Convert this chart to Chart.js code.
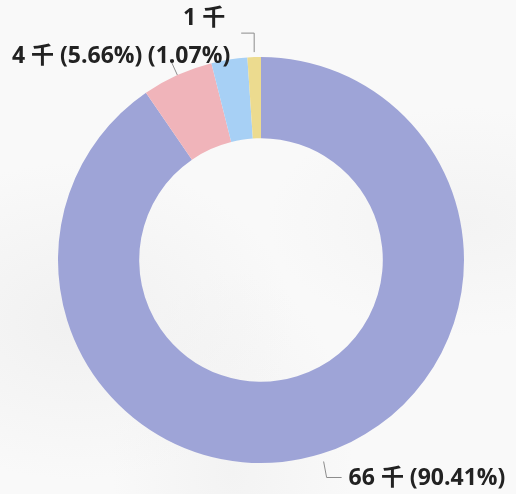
<!DOCTYPE html>
<html>
<head>
<meta charset="utf-8">
<script src="https://cdn.jsdelivr.net/npm/chart.js@4.4.1/dist/chart.umd.min.js"></script>
<style>
  html, body { margin: 0; padding: 0; }
  body {
    width: 516px; height: 494px; overflow: hidden;
    background:
      radial-gradient(ellipse at 15% 65%, rgba(232,232,232,0.5), rgba(255,255,255,0) 35%),
      radial-gradient(ellipse at 90% 45%, rgba(236,236,236,0.45), rgba(255,255,255,0) 30%),
      radial-gradient(ellipse at 45% 95%, rgba(234,234,234,0.4), rgba(255,255,255,0) 30%),
      #f9f9f9;
  }
  #wrap { position: relative; width: 516px; height: 494px; }
</style>
</head>
<body>
<div id="wrap"><canvas id="donut" width="516" height="494"></canvas></div>
<script>
// data
const categories = ["A", "B", "C", "D"];
const values = [66000, 4132, 2088, 781];
const colors = ["#9ea4d7", "#f0b4ba", "#a7d0f5", "#ecdb8f"];
const showLabel = [true, true, false, true];

const total = values.reduce((a, b) => a + b, 0);
const labelFont = "bold 23px 'Open Sans', 'Noto Sans CJK SC', sans-serif";

function valueText(v) {
  return Math.max(1, Math.round(v / 1000)) + " 千";
}
function pctText(v) {
  return "(" + (v / total * 100).toFixed(2) + "%)";
}

// draws the outside labels with leader lines
const outsideLabels = {
  id: "outsideLabels",
  afterDatasetsDraw(chart) {
    const ctx = chart.ctx;
    const arcs = chart.getDatasetMeta(0).data;
    ctx.save();
    ctx.font = labelFont;
    ctx.fillStyle = "#222";
    ctx.strokeStyle = "#8c8c8c";
    ctx.lineWidth = 1;
    ctx.textBaseline = "middle";
    arcs.forEach((arc, i) => {
      if (!showLabel[i]) return;
      const p = arc.getProps(["x", "y", "startAngle", "endAngle", "outerRadius"], true);
      const a = (p.startAngle + p.endAngle) / 2;
      const cx = p.x + Math.cos(a) * p.outerRadius;
      const cy = p.y + Math.sin(a) * p.outerRadius;
      const v = values[i];
      ctx.beginPath();
      if (i === 0) {
        const sx = cx + Math.cos(a) * 8, sy = cy + Math.sin(a) * 8;
        ctx.moveTo(sx, sy);
        ctx.lineTo(sx + 3, sy + 16);
        ctx.lineTo(sx + 18, sy + 16);
        ctx.stroke();
        ctx.textAlign = "left";
        ctx.fillText(valueText(v) + " " + pctText(v), sx + 25, sy + 17);
      } else if (i === 1) {
        const ex = cx + Math.cos(a) * 17, ey = cy + Math.sin(a) * 17;
        ctx.moveTo(cx, cy);
        ctx.lineTo(ex, ey);
        ctx.stroke();
        ctx.textAlign = "right";
        ctx.fillText(valueText(v) + " " + pctText(v), ex - 28, ey - 3);
      } else {
        const sx = cx, sy = cy - 5;
        ctx.moveTo(sx, sy);
        ctx.lineTo(sx, sy - 19);
        ctx.lineTo(sx - 13, sy - 19);
        ctx.stroke();
        ctx.textAlign = "right";
        ctx.fillText(valueText(v), sx - 29, sy - 34);
        ctx.fillText(pctText(v), sx - 24, sy + 4);
      }
    });
    ctx.restore();
  }
};

new Chart(document.getElementById("donut"), {
  type: "doughnut",
  data: {
    labels: categories,
    datasets: [{
      data: values,
      backgroundColor: colors,
      borderWidth: 0
    }]
  },
  options: {
    responsive: false,
    animation: false,
    cutout: "60%",
    layout: { padding: { top: 57, bottom: 31, left: 58, right: 52 } },
    plugins: {
      legend: { display: false },
      tooltip: { enabled: false }
    }
  },
  plugins: [outsideLabels]
});
</script>
</body>
</html>
